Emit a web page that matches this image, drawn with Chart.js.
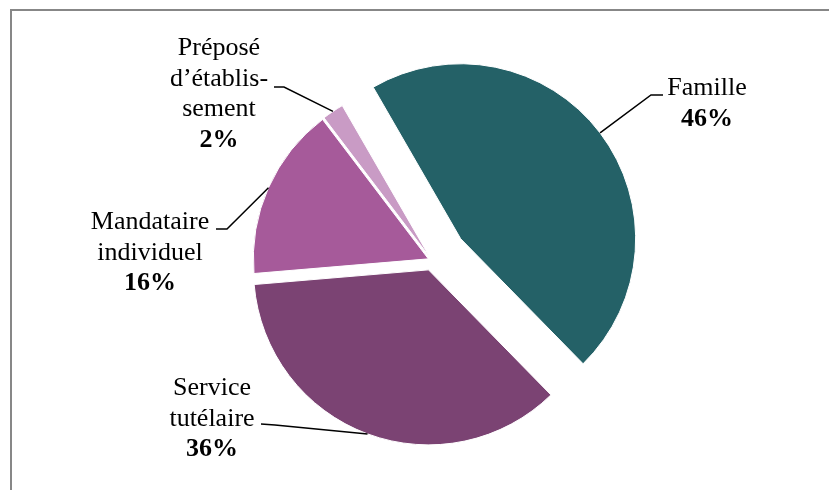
<!DOCTYPE html>
<html lang="fr">
<head>
<meta charset="utf-8">
<title>Répartition des mesures de protection</title>
<script src="https://cdn.jsdelivr.net/npm/chart.js@4.4.1/dist/chart.umd.min.js"></script>
<style>
    html, body { margin: 0; padding: 0; background: #fff; }
    #wrap { position: relative; width: 829px; height: 490px; overflow: hidden; }
    #frame { position: absolute; left: 10px; top: 9px; width: 840px; height: 500px;
             border-top: 2px solid #878787; border-left: 2px solid #878787; }
    #pieChart { position: absolute; left: 0; top: 0; }
</style>
</head>
<body>
<div id="wrap">
    <div id="frame"></div>
    <canvas id="pieChart" width="829" height="490"></canvas>
</div>
<script>
// Données du graphique
const categories = ['Famille', 'Service tutélaire', 'Mandataire individuel', 'Préposé d\u2019établissement'];
const shares = [46, 36, 16, 2]; // en %
const labelLines = [
    ['Famille'],
    ['Service', 'tutélaire'],
    ['Mandataire', 'individuel'],
    ['Préposé', 'd\u2019établis-', 'sement']
];

// Styles
const sliceColors = ['#246167', '#7b4373', '#a65a9a', '#c99bc5'];
const explode = [36, 10, 4, 4]; // décalage des parts (px)

// Position des étiquettes, relative au centre du camembert
// tx = centre du texte, ty = ligne de base de la 1re ligne, elbow/end = trait de rappel
const labelLayout = [
    { tx: 275, ty: -165.5, elbow: [219, -165.5], end: [231, -165.5] },
    { tx: -220, ty: 134.5, elbow: [-157, 164.5], end: [-171, 163.5] },
    { tx: -282, ty: -31.5, elbow: [-205, -31.5], end: [-216, -31.5] },
    { tx: -213, ty: -205.5, elbow: [-148, -173.5], end: [-158, -173.5] }
];
const lineHeight = 30.5;
const fontFamily = '"Liberation Serif", "Times New Roman", serif';

// Dessine chaque part avec son propre décalage
const explodePlugin = {
    id: 'explodeSlices',
    beforeDatasetDraw(chart, args) {
        const ctx = chart.ctx;
        args.meta.data.forEach((arc, i) => {
            const mid = (arc.startAngle + arc.endAngle) / 2;
            ctx.save();
            ctx.translate(Math.cos(mid) * explode[i], Math.sin(mid) * explode[i]);
            arc.draw(ctx);
            ctx.restore();
        });
        return false;
    }
};

// Étiquettes + traits de rappel
const labelPlugin = {
    id: 'sliceLabels',
    afterDatasetsDraw(chart) {
        const ctx = chart.ctx;
        const meta = chart.getDatasetMeta(0);
        meta.data.forEach((arc, i) => {
            const cx = arc.x, cy = arc.y;
            const mid = (arc.startAngle + arc.endAngle) / 2;
            const ax = cx + Math.cos(mid) * (explode[i] + arc.outerRadius);
            const ay = cy + Math.sin(mid) * (explode[i] + arc.outerRadius);
            const lay = labelLayout[i];

            ctx.save();
            ctx.strokeStyle = '#000';
            ctx.lineWidth = 1.5;
            ctx.beginPath();
            ctx.moveTo(ax, ay);
            ctx.lineTo(cx + lay.elbow[0], cy + lay.elbow[1]);
            ctx.lineTo(cx + lay.end[0], cy + lay.end[1]);
            ctx.stroke();

            ctx.fillStyle = '#000';
            ctx.textAlign = 'center';
            ctx.textBaseline = 'alphabetic';
            ctx.font = '26px ' + fontFamily;
            const lines = labelLines[i];
            lines.forEach((txt, k) => {
                ctx.fillText(txt, cx + lay.tx, cy + lay.ty + k * lineHeight);
            });
            ctx.font = 'bold 26px ' + fontFamily;
            ctx.fillText(shares[i] + '%', cx + lay.tx, cy + lay.ty + lines.length * lineHeight);
            ctx.restore();
        });
    }
};

document.addEventListener('DOMContentLoaded', () => {
    const ctx = document.getElementById('pieChart').getContext('2d');
    new Chart(ctx, {
        type: 'pie',
        data: {
            labels: categories,
            datasets: [{
                data: shares,
                backgroundColor: sliceColors,
                borderColor: '#ffffff',
                borderWidth: 1
            }]
        },
        options: {
            responsive: false,
            animation: false,
            rotation: -30,
            radius: 175,
            layout: { padding: { left: 35, right: 0, top: 31, bottom: 0 } },
            plugins: {
                legend: { display: false },
                tooltip: { enabled: false }
            }
        },
        plugins: [explodePlugin, labelPlugin]
    });
});
</script>
</body>
</html>
